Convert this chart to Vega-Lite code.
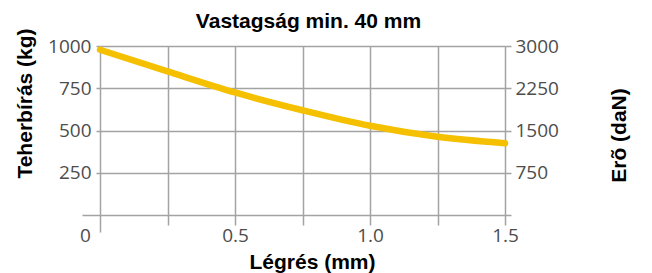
{
  "$schema": "https://vega.github.io/schema/vega-lite/v6.json",
  "width": 405,
  "height": 169,
  "autosize": {"type": "none"},
  "padding": {"left": 100, "top": 46, "right": 147, "bottom": 58},
  "background": "white",
  "title": {
    "text": "Vastagság min. 40 mm",
    "font": "Liberation Sans",
    "fontSize": 21,
    "fontWeight": "bold",
    "color": "#000000",
    "anchor": "middle",
    "dx": 6,
    "dy": 22,
    "offset": 1,
    "baseline": "alphabetic"
  },
  "data": {
    "values": [
      {"legres": 0.0, "kg": 978, "daN": 2934},
      {"legres": 0.25, "kg": 850, "daN": 2550},
      {"legres": 0.5, "kg": 725, "daN": 2175},
      {"legres": 0.75, "kg": 620, "daN": 1860},
      {"legres": 1.0, "kg": 528, "daN": 1584},
      {"legres": 1.25, "kg": 463, "daN": 1389},
      {"legres": 1.5, "kg": 425, "daN": 1275}
    ]
  },
  "layer": [
    {
      "mark": {"type": "line", "color": "#F5C000", "strokeWidth": 6.5, "interpolate": "monotone", "strokeCap": "round"},
      "encoding": {
        "x": {
          "field": "legres",
          "type": "quantitative",
          "scale": {"domain": [0, 1.5], "nice": false, "zero": false},
          "axis": {
            "values": [0, 0.25, 0.5, 0.75, 1.0, 1.25, 1.5],
            "domain": false,
            "grid": true,
            "gridColor": "#a3a3a3",
            "gridWidth": 1.5,
            "tickColor": "#a3a3a3",
            "tickWidth": 1.5,
            "tickSize": {"condition": {"test": "datum.value === 0", "value": 17}, "value": 10},
            "labelExpr": "datum.value === 0 ? '0' : (datum.value * 2 % 1 === 0 ? format(datum.value, '.1f') : '')",
            "labelOffset": {"condition": {"test": "datum.value === 0", "value": -15}, "value": 0},
            "labelPadding": {"condition": {"test": "datum.value === 0", "value": -6}, "value": 1},
            "labelFont": "Open Sans",
            "labelFontSize": 19,
            "labelColor": "#4d4d4d",
            "labelFlush": false,
            "labelOverlap": false,
            "labelBound": false,
            "title": "Légrés (mm)",
            "titleFont": "Liberation Sans",
            "titleFontSize": 21,
            "titleFontWeight": "bold",
            "titleColor": "#000000",
            "titleX": 212,
            "titleY": 53,
            "titleBaseline": "alphabetic",
            "titleAlign": "center"
          }
        },
        "y": {
          "field": "kg",
          "type": "quantitative",
          "scale": {"domain": [0, 1000], "nice": false},
          "axis": {
            "values": [0, 250, 500, 750, 1000],
            "domain": false,
            "grid": true,
            "gridColor": "#a3a3a3",
            "gridWidth": 1.5,
            "tickColor": "#a3a3a3",
            "tickWidth": 1.5,
            "tickSize": {"condition": {"test": "datum.value === 0", "value": 18}, "value": 4},
            "labelExpr": "datum.value === 0 ? '' : format(datum.value, 'd')",
            "labelFont": "Open Sans",
            "labelFontSize": 19,
            "labelColor": "#4d4d4d",
            "labelPadding": 5,
            "labelFlush": false,
            "labelOverlap": false,
            "labelBound": false,
            "title": "Teherbírás (kg)",
            "titleFont": "Liberation Sans",
            "titleFontSize": 21,
            "titleFontWeight": "bold",
            "titleColor": "#000000",
            "titleAngle": 270,
            "titleX": -69,
            "titleY": 57,
            "titleBaseline": "alphabetic",
            "titleAlign": "center"
          }
        }
      }
    },
    {
      "mark": {"type": "line", "opacity": 0},
      "encoding": {
        "x": {"field": "legres", "type": "quantitative", "scale": {"domain": [0, 1.5], "nice": false, "zero": false}},
        "y": {
          "field": "daN",
          "type": "quantitative",
          "scale": {"domain": [0, 3000], "nice": false},
          "axis": {
            "orient": "right",
            "values": [0, 750, 1500, 2250, 3000],
            "domain": false,
            "grid": false,
            "tickColor": "#a3a3a3",
            "tickWidth": 1.5,
            "tickSize": 6,
            "labelExpr": "datum.value === 0 ? '' : format(datum.value, 'd')",
            "labelFont": "Open Sans",
            "labelFontSize": 19,
            "labelColor": "#4d4d4d",
            "labelPadding": 4,
            "labelFlush": false,
            "labelOverlap": false,
            "labelBound": false,
            "title": "Erõ (daN)",
            "titleFont": "Liberation Sans",
            "titleFontSize": 21,
            "titleFontWeight": "bold",
            "titleColor": "#000000",
            "titleAngle": 270,
            "titleX": 120,
            "titleY": 89,
            "titleBaseline": "alphabetic",
            "titleAlign": "center"
          }
        }
      }
    }
  ],
  "resolve": {"scale": {"y": "independent"}},
  "config": {"view": {"stroke": null}}
}
